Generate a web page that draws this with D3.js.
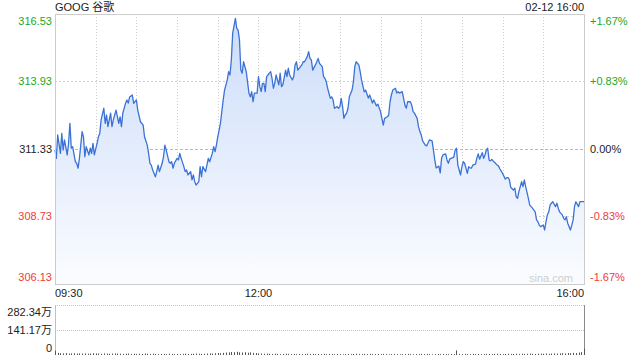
<!DOCTYPE html>
<meta charset="utf-8">
<style>
body { margin: 0; background: #fff; }
text { font-family: "Liberation Sans", Arial, "Noto Sans CJK SC", sans-serif; font-size: 11px; }
</style>
<svg width="640" height="360"></svg>
<script src="https://d3js.org/d3.v7.min.js"></script>
<script>

var title = "GOOG 谷歌",
    stamp = "02-12 16:00",
    prevClose = 311.33;

// minutes since 09:30 and last price
var minutes = [0,1,2,4,5,6,7,9,10,11,12,13,15,16,17,18,20,21,22,23,25,26,27,28,29,31,32,33,34,36,37,38,39,41,42,43,44,45,47,48,49,50,52,53,54,55,57,58,60,61,63,65,66,68,69,70,71,72,74,75,76,77,79,80,81,82,84,85,86,87,88,90,91,92,93,95,96,97,98,100,101,102,103,104,106,107,108,109,111,112,113,114,116,117,118,119,120,122,124,125,127,128,129,130,131,133,134,135,136,137,138,139,140,141,143,144,145,146,147,149,150,151,152,153,154,155,156,157,158,159,160,161,162,163,165,166,167,168,170,171,172,173,175,176,177,178,179,181,182,183,184,186,187,188,189,190,192,193,194,195,197,198,199,200,201,203,204,205,206,208,209,210,211,212,213,214,215,216,217,219,220,221,222,224,225,226,228,229,231,232,234,235,237,238,240,241,242,243,245,246,247,248,249,251,252,253,254,256,257,258,259,260,262,263,264,265,267,268,269,270,271,273,274,275,276,278,279,280,281,283,284,285,286,288,289,290,291,292,294,295,296,297,298,299,300,301,302,304,305,306,307,308,310,311,312,313,315,316,317,318,319,320,321,322,323,324,326,327,328,329,330,332,333,334,335,336,338,339,340,341,342,344,345,346,347,349,350,351,352,354,355,356,357,358,360,361,362,363,364,365,366,367,369,370,371,372,374,375,376,377,378,380,381,382,383,384,386,387,388,390];

var prices = [311.29,310.97,311.87,311.16,311.93,311.29,311.68,311.10,311.55,312.32,311.36,311.42,310.84,310.78,310.59,310.97,312.00,311.80,311.03,311.42,311.10,311.36,311.16,311.55,311.10,311.55,311.80,311.93,312.45,312.90,312.32,312.64,312.19,312.71,312.19,312.45,312.64,312.83,312.32,312.57,312.19,312.71,313.09,313.22,313.10,313.33,313.41,313.09,313.22,312.83,312.38,312.25,311.80,311.48,311.16,310.78,310.71,310.52,310.26,310.46,310.71,310.46,310.78,311.03,311.48,311.29,310.84,310.78,310.84,310.59,310.78,310.97,310.91,311.16,310.97,310.65,310.46,310.52,310.33,310.46,310.14,310.33,310.07,309.94,310.07,310.65,310.26,310.65,310.46,310.71,310.97,310.84,311.16,311.42,311.23,311.48,311.80,312.33,313.22,313.60,313.99,314.31,314.18,314.76,315.79,316.36,315.98,315.91,315.53,314.37,314.25,314.69,314.50,314.31,313.48,313.34,313.54,313.15,313.48,313.48,314.12,313.73,313.54,313.86,313.86,313.54,314.12,314.18,314.25,314.31,314.05,313.67,313.86,314.18,313.80,314.25,313.73,313.80,314.37,314.12,314.44,314.18,313.99,314.12,314.57,314.69,314.37,314.50,314.57,314.69,314.69,314.89,315.08,314.82,314.76,314.37,314.57,314.69,314.82,314.63,314.50,314.12,314.05,313.92,313.67,313.28,313.34,313.22,312.90,312.96,312.90,312.96,313.28,312.96,312.51,312.64,312.71,312.90,313.34,313.60,313.92,314.50,314.69,314.57,314.31,313.99,313.53,313.60,313.29,313.41,313.10,313.22,312.99,313.06,312.77,312.51,312.25,312.51,312.57,312.64,313.15,313.41,313.60,313.67,313.48,313.54,313.48,313.54,313.28,313.02,312.90,313.15,313.15,313.02,312.77,312.71,312.51,312.19,312.00,311.87,311.64,311.48,311.45,311.56,311.68,311.64,311.29,310.91,310.60,310.67,310.41,310.97,311.10,311.14,310.91,310.78,310.94,310.97,311.02,311.29,311.36,310.71,310.52,310.33,310.65,310.84,310.78,310.39,310.65,310.60,310.59,310.71,310.75,310.98,311.14,310.94,311.19,310.97,311.10,311.29,311.36,310.91,310.87,310.93,310.87,310.82,310.71,310.67,310.56,310.48,310.39,310.17,310.23,310.23,310.14,309.85,309.75,309.82,309.49,309.43,309.69,310.07,309.88,310.14,309.88,309.43,309.17,309.11,309.05,308.91,308.60,308.53,308.40,308.34,308.40,308.21,308.53,308.79,308.91,309.17,309.24,309.30,309.11,309.24,309.05,308.91,308.79,308.66,308.60,308.72,308.47,308.21,308.40,308.60,309.11,309.30,309.11,309.30,309.30,309.30];

// volume (万) every two minutes from 09:30
var volumes = [24,12,10,9,11,8,9,10,8,9,
  8,9,7,8,10,9,8,7,9,8,
  7,8,9,8,7,6,7,8,6,7,
  6,7,6,8,7,6,7,6,5,6,
  6,5,7,6,5,6,5,6,7,6,
  6,7,8,7,6,7,8,9,8,10,
  11,10,12,14,15,17,16,18,15,14,
  16,13,15,12,11,9,8,7,8,7,
  6,7,6,5,6,7,6,5,6,5,
  6,5,6,7,5,6,5,6,5,6,
  5,6,5,5,6,5,4,5,6,5,
  6,7,6,5,6,5,6,5,5,6,
  5,6,5,4,5,6,5,4,5,5,
  6,5,4,5,5,6,5,6,5,4,
  5,6,5,6,5,5,6,5,26,6,
  5,6,5,5,6,5,6,5,5,6,
  6,5,6,7,6,5,6,7,6,6,
  7,6,7,6,7,8,7,6,7,8,
  7,8,7,8,9,8,9,10,9,11,
  10,12,11,14,16,36];

var priceTicks = [316.53, 313.93, 311.33, 308.73, 306.13];
var pctTicks = ["+1.67%", "+0.83%", "0.00%", "-0.83%", "-1.67%"];
var volTicks = [282.34, 141.17, 0];
var volLabels = ["282.34万", "141.17万", "0"];
var timeTicks = [0, 150, 390];
var timeLabels = ["09:30", "12:00", "16:00"];

var green = "#22a822", red = "#f23a3a", dark = "#222";

var svg = d3.select("svg"),
    pL = 55, pR = 584, pT = 14, pB = 284;

var x = d3.scaleLinear().domain([0, 390]).range([pL, pR]);
var y = d3.scaleLinear().domain([306.13, 316.53]).range([pB, pT]);
var yv = d3.scaleLinear().domain([0, 282.34]).range([355, 305]);

function tickColor(v) { return v > prevClose + 0.001 ? green : v < prevClose - 0.001 ? red : dark; }

var grad = svg.append("defs").append("linearGradient")
    .attr("id", "fill")
    .attr("gradientUnits", "userSpaceOnUse")
    .attr("x1", 0).attr("x2", 0).attr("y1", pT).attr("y2", pB);
grad.append("stop").attr("offset", 0).attr("stop-color", "#cbdcf9");
grad.append("stop").attr("offset", 1).attr("stop-color", "#fbfcff");

// vertical grid every half hour
svg.append("g").selectAll("line")
  .data(d3.range(30, 390, 30))
  .enter().append("line")
    .attr("x1", function(d) { return Math.round(x(d)) + 0.5; })
    .attr("x2", function(d) { return Math.round(x(d)) + 0.5; })
    .attr("y1", pT).attr("y2", pB)
    .attr("stroke", "#cfcfcf")
    .attr("stroke-dasharray", "1,2");

svg.append("g").selectAll("line")
  .data(priceTicks.slice(1, -1))
  .enter().append("line")
    .attr("x1", pL).attr("x2", pR)
    .attr("y1", function(d) { return Math.round(y(d)) + 0.5; })
    .attr("y2", function(d) { return Math.round(y(d)) + 0.5; })
    .attr("stroke", function(d) { return d === prevClose ? "#b8b8b8" : "#cfcfcf"; })
    .attr("stroke-dasharray", function(d) { return d === prevClose ? "3,2" : "2,2"; });

var pts = minutes.map(function(m, i) { return [m, prices[i]]; });

svg.append("path")
    .datum(pts)
    .attr("fill", "url(#fill)")
    .attr("d", d3.area()
      .x(function(d) { return x(d[0]); })
      .y0(pB)
      .y1(function(d) { return y(d[1]); }));

svg.append("path")
    .datum(pts)
    .attr("fill", "none")
    .attr("stroke", "#3b72d6")
    .attr("stroke-width", 1.3)
    .attr("stroke-linejoin", "round")
    .attr("d", d3.line()
      .x(function(d) { return x(d[0]); })
      .y(function(d) { return y(d[1]); }));

svg.append("rect")
    .attr("x", pL + 0.5).attr("y", pT + 0.5)
    .attr("width", pR - pL).attr("height", pB - pT)
    .attr("fill", "none")
    .attr("stroke", "#cccccc");

svg.append("text")
    .attr("x", pR - 11).attr("y", 282)
    .attr("text-anchor", "end")
    .attr("fill", "#cfcfcf")
    .text("sina.com");

function labelY(v, i, n, sc) {
  var p = sc(v);
  if (i === 0) return p + 7;
  if (i === n - 1) return p - 7;
  return p;
}

svg.append("g").selectAll("text")
  .data(priceTicks)
  .enter().append("text")
    .attr("x", 52)
    .attr("y", function(d, i) { return labelY(d, i, priceTicks.length, y); })
    .attr("dy", "0.35em")
    .attr("text-anchor", "end")
    .attr("fill", tickColor)
    .text(function(d) { return d.toFixed(2); });

svg.append("g").selectAll("text")
  .data(pctTicks)
  .enter().append("text")
    .attr("x", 590)
    .attr("y", function(d, i) { return labelY(priceTicks[i], i, priceTicks.length, y); })
    .attr("dy", "0.35em")
    .attr("fill", function(d, i) { return tickColor(priceTicks[i]); })
    .text(function(d) { return d; });

svg.append("text")
    .attr("x", pL).attr("y", 11)
    .attr("fill", dark)
    .text(title);

svg.append("text")
    .attr("x", pR).attr("y", 11)
    .attr("text-anchor", "end")
    .attr("fill", dark)
    .text(stamp);

svg.append("g").selectAll("text")
  .data(timeTicks)
  .enter().append("text")
    .attr("x", function(d) { return x(d); })
    .attr("y", 297)
    .attr("text-anchor", function(d, i) { return i === 0 ? "start" : i === timeTicks.length - 1 ? "end" : "middle"; })
    .attr("fill", dark)
    .text(function(d, i) { return timeLabels[i]; });

// volume panel
svg.append("g").selectAll("line")
  .data(volTicks.slice(0, -1))
  .enter().append("line")
    .attr("x1", pL).attr("x2", pR)
    .attr("y1", function(d) { return Math.round(yv(d)) + 0.5; })
    .attr("y2", function(d) { return Math.round(yv(d)) + 0.5; })
    .attr("stroke", "#c4c4c4")
    .attr("stroke-dasharray", "1,1");

svg.append("line")
    .attr("x1", pL + 0.5).attr("x2", pL + 0.5)
    .attr("y1", yv(282.34)).attr("y2", yv(0))
    .attr("stroke", "#c0c0c0");

svg.append("line")
    .attr("x1", pR + 0.5).attr("x2", pR + 0.5)
    .attr("y1", yv(282.34)).attr("y2", yv(0))
    .attr("stroke", "#8a8a8a");

svg.append("g").selectAll("rect")
  .data(volumes)
  .enter().append("rect")
    .attr("x", function(d, i) { return Math.round(x(i * 2)); })
    .attr("y", function(d) { return yv(d); })
    .attr("width", 1)
    .attr("height", function(d) { return yv(0) - yv(d); })
    .attr("fill", "#555");

svg.append("g").selectAll("text")
  .data(volTicks)
  .enter().append("text")
    .attr("x", 52)
    .attr("y", function(d, i) { return labelY(d, i, volTicks.length, yv); })
    .attr("dy", "0.35em")
    .attr("text-anchor", "end")
    .attr("fill", dark)
    .text(function(d, i) { return volLabels[i]; });

</script>
